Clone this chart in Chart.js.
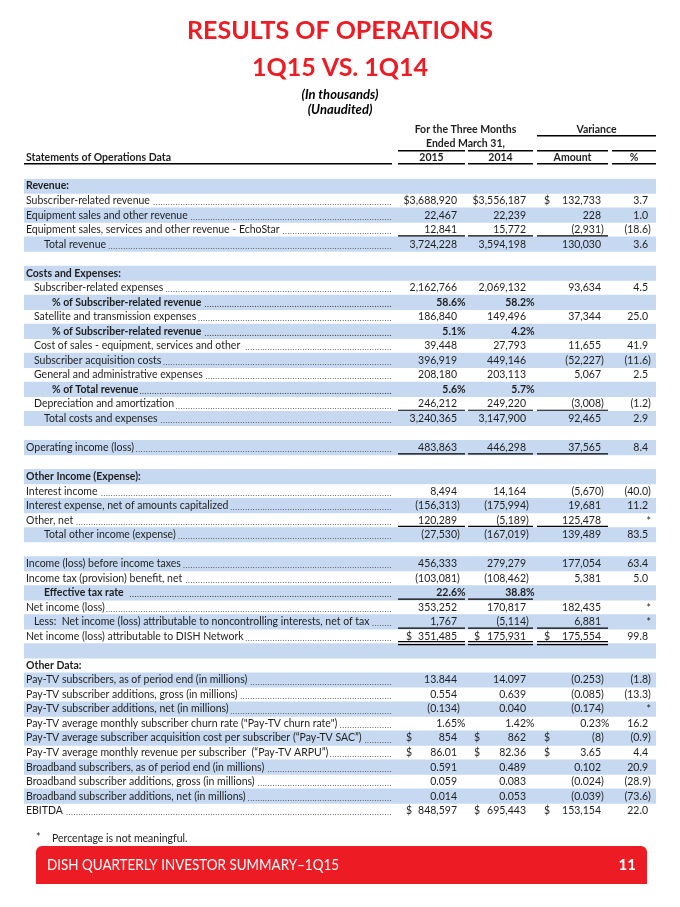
<!DOCTYPE html>
<html>
<head>
<meta charset="utf-8">
<title>Results of Operations 1Q15 vs. 1Q14</title>
<script src="https://cdn.jsdelivr.net/npm/chart.js@4.4.1/dist/chart.umd.min.js"></script>
<style>
  html, body { margin: 0; padding: 0; background: #fff; }
  #wrap { position: relative; width: 680px; height: 907px; }
</style>
</head>
<body>
<div id="wrap"><canvas id="opsChart"></canvas></div>
<script>
// --- Table data (in thousands unless noted) ---
const titleLines = ['RESULTS OF OPERATIONS', '1Q15 VS. 1Q14'];
const subtitleLines = ['(In thousands)', '(Unaudited)'];
const headerTop = ['For the Three Months', 'Variance'];
const headerMid = 'Ended March 31,';
const columnHeads = ['Statements of Operations Data', '2015', '2014', 'Amount', '%'];

const rowLabels = [
    'Revenue:',
    'Subscriber-related revenue',
    'Equipment sales and other revenue',
    'Equipment sales, services and other revenue - EchoStar',
    'Total revenue',
    '',
    'Costs and Expenses:',
    'Subscriber-related expenses',
    '% of Subscriber-related revenue',
    'Satellite and transmission expenses',
    '% of Subscriber-related revenue',
    'Cost of sales - equipment, services and other ',
    'Subscriber acquisition costs',
    'General and administrative expenses',
    '% of Total revenue',
    'Depreciation and amortization',
    'Total costs and expenses',
    '',
    'Operating income (loss)',
    '',
    'Other Income (Expense):',
    'Interest income',
    'Interest expense, net of amounts capitalized',
    'Other, net',
    'Total other income (expense)',
    '',
    'Income (loss) before income taxes',
    'Income tax (provision) benefit, net',
    'Effective tax rate ',
    'Net income (loss)',
    'Less:  Net income (loss) attributable to noncontrolling interests, net of tax',
    'Net income (loss) attributable to DISH Network',
    '',
    'Other Data:',
    'Pay-TV subscribers, as of period end (in millions)',
    'Pay-TV subscriber additions, gross (in millions)',
    'Pay-TV subscriber additions, net (in millions)',
    'Pay-TV average monthly subscriber churn rate ("Pay-TV churn rate")',
    'Pay-TV average subscriber acquisition cost per subscriber (\u201cPay-TV SAC\u201d)',
    'Pay-TV average monthly revenue per subscriber  (\u201cPay-TV ARPU\u201d)',
    'Broadband subscribers, as of period end (in millions)',
    'Broadband subscriber additions, gross (in millions)',
    'Broadband subscriber additions, net (in millions)',
    'EBITDA'
];

// indent level of each label (0 = flush)
const rowLevel = [0,0,0,0,2, 0, 0,1,3,1,3,1,1,1,3,1,2, 0, 0, 0, 0,0,0,0,2, 0, 0,0,2,0,1,0, 0, 0,0,0,0,0,0,0,0,0,0,0];
const boldRows = [0, 6, 8, 10, 14, 20, 28, 33];
const sectionRows = [0, 6, 20, 33];

const col2015 = ['', '$3,688,920', '22,467', '12,841', '3,724,228', '',
    '', '2,162,766', '58.6%', '186,840', '5.1%', '39,448', '396,919', '208,180', '5.6%', '246,212', '3,240,365', '',
    '483,863', '',
    '', '8,494', '(156,313)', '120,289', '(27,530)', '',
    '456,333', '(103,081)', '22.6%', '353,252', '1,767', '351,485', '',
    '', '13.844', '0.554', '(0.134)', '1.65%', '854', '86.01', '0.591', '0.059', '0.014', '848,597'];
const col2014 = ['', '$3,556,187', '22,239', '15,772', '3,594,198', '',
    '', '2,069,132', '58.2%', '149,496', '4.2%', '27,793', '449,146', '203,113', '5.7%', '249,220', '3,147,900', '',
    '446,298', '',
    '', '14,164', '(175,994)', '(5,189)', '(167,019)', '',
    '279,279', '(108,462)', '38.8%', '170,817', '(5,114)', '175,931', '',
    '', '14.097', '0.639', '0.040', '1.42%', '862', '82.36', '0.489', '0.083', '0.053', '695,443'];
const colAmount = ['', '132,733', '228', '(2,931)', '130,030', '',
    '', '93,634', '', '37,344', '', '11,655', '(52,227)', '5,067', '', '(3,008)', '92,465', '',
    '37,565', '',
    '', '(5,670)', '19,681', '125,478', '139,489', '',
    '177,054', '5,381', '', '182,435', '6,881', '175,554', '',
    '', '(0.253)', '(0.085)', '(0.174)', '0.23%', '(8)', '3.65', '0.102', '(0.024)', '(0.039)', '153,154'];
const colPct = ['', '3.7', '1.0', '(18.6)', '3.6', '',
    '', '4.5', '', '25.0', '', '41.9', '(11.6)', '2.5', '', '(1.2)', '2.9', '',
    '8.4', '',
    '', '(40.0)', '11.2', '*', '83.5', '',
    '63.4', '5.0', '', '*', '*', '99.8', '',
    '', '(1.8)', '(13.3)', '*', '16.2', '(0.9)', '4.4', '20.9', '(28.9)', '(73.6)', '22.0'];

// rows that carry a separate "$" in the 2015 / 2014 / Amount columns
const dollarAll = [31, 38, 39, 43];
const dollarAmountOnly = [1];
// rows with rules beneath them (column indexes)
const singleRule = { 3: [0, 1, 2], 15: [0, 1, 2], 18: [0, 1, 2], 23: [0, 1, 2], 28: [0, 1], 30: [0, 1, 2] };
const doubleRule = { 31: [0, 1, 2] };

const footnote = 'Percentage is not meaningful.';
const footerText = 'DISH QUARTERLY INVESTOR SUMMARY\u20131Q15';
const pageNumber = '11';

// --- Styling ---
const FONT = 'Lato, "Open Sans", sans-serif';
const FS = 10.5;
const TEXT = '#1e1e1e';
const RED = '#ed1c24';
const BAND = '#c6d9f1';
const levelIndent = [2, 10, 20, 28];
const leaderEnd = 368;
const colSeg = [[374, 441], [444, 509], [513, 584], [588, 632]];
const valueRight = [433, 502, 577, 624];
const dollarX = [382, 450, 520];

function hline(ctx, x1, x2, y, w) {
    ctx.lineWidth = w;
    ctx.beginPath();
    ctx.moveTo(x1, y);
    ctx.lineTo(x2, y);
    ctx.stroke();
}

// right-align on the digits, letting ")" and "%" hang past the edge
function drawValue(ctx, txt, right, y) {
    if (!txt) return;
    const last = txt.slice(-1);
    if (last === ')' || last === '%') {
        ctx.textAlign = 'right';
        ctx.fillText(txt.slice(0, -1), right, y);
        ctx.textAlign = 'left';
        ctx.fillText(last, right, y);
    } else if (txt === '*') {
        ctx.textAlign = 'right';
        ctx.fillText(txt, right + 3, y + 1);
    } else {
        ctx.textAlign = 'right';
        ctx.fillText(txt, right, y);
    }
}

const tablePlugin = {
    id: 'tableText',
    afterDatasetsDraw(chart) {
        const { ctx, chartArea: area, scales: { y } } = chart;
        const L = area.left;
        const top = area.top;
        const rowH = y.getPixelForValue(1) - y.getPixelForValue(0);

        ctx.save();
        ctx.fillStyle = TEXT;
        ctx.strokeStyle = '#000';
        ctx.textBaseline = 'middle';

        // --- column headers ---
        ctx.font = `bold ${FS}px ${FONT}`;
        ctx.textAlign = 'center';
        const mid01 = L + (colSeg[0][0] + colSeg[1][1]) / 2;
        const mid23 = L + (colSeg[2][0] + colSeg[3][1]) / 2;
        ctx.fillText(headerTop[0], mid01, top - 49);
        ctx.fillText(headerTop[1], mid23, top - 49);
        ctx.fillText(headerMid, mid01, top - 35);
        hline(ctx, L + colSeg[2][0], L + colSeg[3][1], top - 43, 1.6);
        colSeg.forEach(s => hline(ctx, L + s[0], L + s[1], top - 28, 1.6));

        ctx.textAlign = 'left';
        ctx.fillText(columnHeads[0], L + levelIndent[0], top - 21);
        ctx.textAlign = 'center';
        colSeg.forEach((s, k) => ctx.fillText(columnHeads[k + 1], L + (s[0] + s[1]) / 2, top - 21));
        hline(ctx, L, L + leaderEnd, top - 15, 1.6);
        colSeg.forEach(s => hline(ctx, L + s[0], L + s[1], top - 15, 1.6));

        // --- rows ---
        const cols = [col2015, col2014, colAmount, colPct];
        rowLabels.forEach((label, i) => {
            const yy = y.getPixelForValue(i);
            const bold = boldRows.includes(i);
            const font = `${bold ? 'bold ' : ''}${FS}px ${FONT}`;
            ctx.font = font;
            ctx.fillStyle = TEXT;
            const x0 = L + levelIndent[rowLevel[i]];
            const room = L + leaderEnd - x0 - 8;

            if (label) {
                ctx.textAlign = 'left';
                ctx.fillText(label, x0, yy, room);
                if (!sectionRows.includes(i)) {
                    // dot leader up to the first value column
                    const w = Math.min(ctx.measureText(label).width, room);
                    ctx.font = `${bold ? 'bold ' : ''}8px ${FONT}`;
                    ctx.letterSpacing = '0.6px';
                    const dw = ctx.measureText('..').width - ctx.measureText('.').width;
                    const n = Math.floor((L + leaderEnd - (x0 + w + 1)) / dw);
                    if (n > 0) {
                        ctx.fillStyle = '#444';
                        ctx.textAlign = 'right';
                        ctx.fillText('.'.repeat(n), L + leaderEnd, yy + 2);
                    }
                    ctx.letterSpacing = '0px';
                    ctx.fillStyle = TEXT;
                    ctx.font = font;
                }
            }

            cols.forEach((col, k) => drawValue(ctx, col[i], L + valueRight[k], yy));

            if (dollarAll.includes(i) || dollarAmountOnly.includes(i)) {
                ctx.textAlign = 'left';
                const ks = dollarAll.includes(i) ? [0, 1, 2] : [2];
                ks.forEach(k => ctx.fillText('$', L + dollarX[k], yy));
            }

            const bottom = yy + rowH / 2 - 1;
            (singleRule[i] || []).forEach(k => hline(ctx, L + colSeg[k][0], L + colSeg[k][1], bottom, 1.2));
            (doubleRule[i] || []).forEach(k => {
                hline(ctx, L + colSeg[k][0], L + colSeg[k][1], bottom - 1, 1.2);
                hline(ctx, L + colSeg[k][0], L + colSeg[k][1], bottom + 2, 1.2);
            });
        });
        ctx.restore();
    },
    afterDraw(chart) {
        const { ctx, chartArea: area } = chart;
        const b = area.bottom;
        ctx.save();
        ctx.textBaseline = 'middle';
        ctx.fillStyle = TEXT;
        ctx.font = `${FS}px ${FONT}`;
        ctx.textAlign = 'left';
        ctx.fillText('*', 36, b + 20);
        ctx.fillText(footnote, 52, b + 21);

        // red footer bar with rounded top corners
        ctx.fillStyle = RED;
        ctx.beginPath();
        ctx.roundRect(36, b + 28, 611, 38, [6, 6, 0, 0]);
        ctx.fill();
        ctx.fillStyle = '#fff';
        ctx.font = `15px ${FONT}`;
        ctx.fillText(footerText, 47, b + 47, 292);
        ctx.textAlign = 'right';
        ctx.font = `bold 15px ${FONT}`;
        ctx.fillText(pageNumber, 636, b + 47);
        ctx.restore();
    }
};

const shaded = rowLabels.map((_, i) => (i % 2 === 0 ? [0, 1] : null));

new Chart(document.getElementById('opsChart'), {
    type: 'bar',
    data: {
        labels: rowLabels,
        datasets: [{
            data: shaded,
            backgroundColor: BAND,
            borderWidth: 0,
            barPercentage: 1,
            categoryPercentage: 1
        }]
    },
    options: {
        indexAxis: 'y',
        responsive: true,
        maintainAspectRatio: false,
        animation: false,
        events: [],
        layout: { padding: { top: 7, left: 24, right: 24, bottom: 89 } },
        scales: {
            x: { display: false, min: 0, max: 1 },
            y: { display: false, grid: { display: false } }
        },
        plugins: {
            legend: { display: false },
            tooltip: { enabled: false },
            title: {
                display: true,
                text: titleLines,
                color: RED,
                font: { family: FONT, size: 25, weight: 'bold', lineHeight: 1.5 },
                padding: { top: 5, bottom: 0 }
            },
            subtitle: {
                display: true,
                text: subtitleLines,
                color: '#000',
                font: { family: FONT, size: 13, weight: 'bold', style: 'italic', lineHeight: 1.154 },
                padding: { top: 0, bottom: 61.8 }
            }
        }
    },
    plugins: [tablePlugin]
});
</script>
</body>
</html>
